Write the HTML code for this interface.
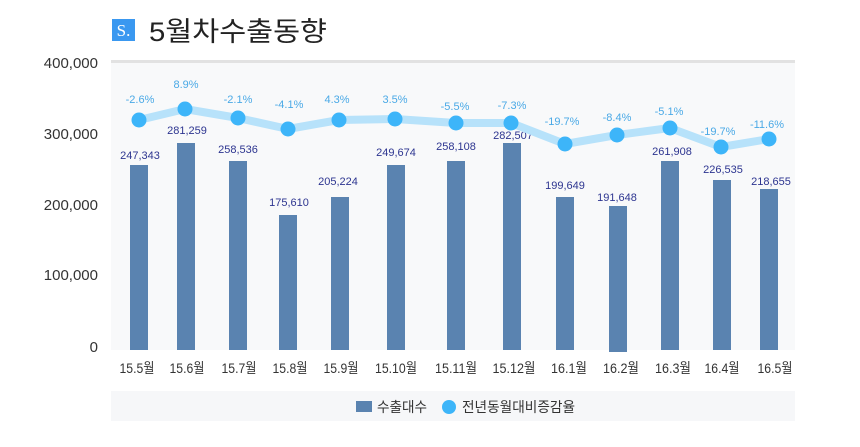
<!DOCTYPE html>
<html>
<head>
<meta charset="utf-8">
<style>
html,body{margin:0;padding:0;background:#fff;}
svg{display:block;}
text{font-family:"Liberation Sans","Noto Sans CJK KR",sans-serif;}
</style>
</head>
<body>
<svg width="860" height="447" viewBox="0 0 860 447" xmlns="http://www.w3.org/2000/svg">
<rect x="0" y="0" width="860" height="447" fill="#fff"/>
<!-- title -->
<rect x="112" y="19" width="23" height="22" fill="#3a98f0"/>
<text x="123.5" y="36" fill="#fff" font-size="17" text-anchor="middle" style="font-family:'Liberation Serif',serif">S.</text>
<text x="149" y="41" fill="#222" font-size="27" textLength="178" lengthAdjust="spacingAndGlyphs">5월차수출동향</text>

<!-- plot bg -->
<rect x="111" y="61" width="684" height="289" fill="#f8f9fa"/>
<rect x="111" y="60" width="684" height="3" fill="#e2e2e2"/>

<!-- y labels -->
<g font-size="15" fill="#333" text-anchor="end">
<text x="98" y="68">400,000</text>
<text x="98" y="139">300,000</text>
<text x="98" y="210">200,000</text>
<text x="98" y="280">100,000</text>
<text x="98" y="352">0</text>
</g>

<!-- bars -->
<g fill="#5a83b0">
<rect x="130" y="165" width="18" height="185"/>
<rect x="177" y="143" width="18" height="207"/>
<rect x="229" y="161" width="18" height="189"/>
<rect x="279" y="215" width="18" height="135"/>
<rect x="331" y="197" width="18" height="153"/>
<rect x="387" y="165" width="18" height="185"/>
<rect x="447" y="161" width="18" height="189"/>
<rect x="503" y="143" width="18" height="207"/>
<rect x="556" y="197" width="18" height="153"/>
<rect x="609" y="206" width="18" height="146"/>
<rect x="661" y="161" width="18" height="189"/>
<rect x="713" y="180" width="18" height="170"/>
<rect x="760" y="189" width="18" height="161"/>
</g>

<!-- value labels -->
<g font-size="11" fill="#2d3590" text-anchor="middle">
<text x="140" y="159">247,343</text>
<text x="187" y="134">281,259</text>
<text x="238" y="153">258,536</text>
<text x="289" y="206">175,610</text>
<text x="338" y="185">205,224</text>
<text x="396" y="156">249,674</text>
<text x="456" y="150">258,108</text>
<text x="513" y="139">282,507</text>
<text x="565" y="189">199,649</text>
<text x="617" y="201">191,648</text>
<text x="672" y="155">261,908</text>
<text x="723" y="173">226,535</text>
<text x="771" y="185">218,655</text>
</g>

<!-- line -->
<polyline points="139,120 185,109 238,118 288,129 339,120 395,119 456,123 511,123 565,144 617,135 670,128 721,147 769,139" fill="none" stroke="#b7e2fa" stroke-width="8" stroke-linejoin="round"/>
<g fill="#3db5f9">
<circle cx="139" cy="120" r="7.5"/>
<circle cx="185" cy="109" r="7.5"/>
<circle cx="238" cy="118" r="7.5"/>
<circle cx="288" cy="129" r="7.5"/>
<circle cx="339" cy="120" r="7.5"/>
<circle cx="395" cy="119" r="7.5"/>
<circle cx="456" cy="123" r="7.5"/>
<circle cx="511" cy="123" r="7.5"/>
<circle cx="565" cy="144" r="7.5"/>
<circle cx="617" cy="135" r="7.5"/>
<circle cx="670" cy="128" r="7.5"/>
<circle cx="721" cy="147" r="7.5"/>
<circle cx="769" cy="139" r="7.5"/>
</g>

<!-- percent labels -->
<g font-size="11" fill="#4aa9e6" text-anchor="middle">
<text x="140" y="103">-2.6%</text>
<text x="186" y="88">8.9%</text>
<text x="238" y="103">-2.1%</text>
<text x="289" y="108">-4.1%</text>
<text x="337" y="103">4.3%</text>
<text x="395" y="103">3.5%</text>
<text x="455" y="110">-5.5%</text>
<text x="512" y="109">-7.3%</text>
<text x="562" y="125">-19.7%</text>
<text x="617" y="121">-8.4%</text>
<text x="669" y="115">-5.1%</text>
<text x="718" y="135">-19.7%</text>
<text x="767" y="128">-11.6%</text>
</g>

<!-- x labels -->
<g font-size="14" fill="#333" text-anchor="middle">
<text x="137" y="373" textLength="35" lengthAdjust="spacingAndGlyphs">15.5월</text>
<text x="187" y="373" textLength="35" lengthAdjust="spacingAndGlyphs">15.6월</text>
<text x="239" y="373" textLength="35" lengthAdjust="spacingAndGlyphs">15.7월</text>
<text x="290" y="373" textLength="35" lengthAdjust="spacingAndGlyphs">15.8월</text>
<text x="341" y="373" textLength="35" lengthAdjust="spacingAndGlyphs">15.9월</text>
<text x="396" y="373" textLength="42" lengthAdjust="spacingAndGlyphs">15.10월</text>
<text x="456" y="373" textLength="42" lengthAdjust="spacingAndGlyphs">15.11월</text>
<text x="514" y="373" textLength="43" lengthAdjust="spacingAndGlyphs">15.12월</text>
<text x="569" y="373" textLength="36" lengthAdjust="spacingAndGlyphs">16.1월</text>
<text x="621" y="373" textLength="36" lengthAdjust="spacingAndGlyphs">16.2월</text>
<text x="673" y="373" textLength="36" lengthAdjust="spacingAndGlyphs">16.3월</text>
<text x="722" y="373" textLength="35" lengthAdjust="spacingAndGlyphs">16.4월</text>
<text x="775" y="373" textLength="35" lengthAdjust="spacingAndGlyphs">16.5월</text>
</g>

<!-- legend -->
<rect x="111" y="391" width="684" height="30" fill="#f6f7f9"/>
<rect x="356" y="401" width="16" height="11" fill="#5a83b0"/>
<text x="377" y="412" font-size="14" fill="#333" textLength="50" lengthAdjust="spacingAndGlyphs">수출대수</text>
<circle cx="449" cy="407" r="7" fill="#3db5f9"/>
<text x="462" y="412" font-size="14" fill="#333" textLength="113" lengthAdjust="spacingAndGlyphs">전년동월대비증감율</text>
</svg>
</body>
</html>
